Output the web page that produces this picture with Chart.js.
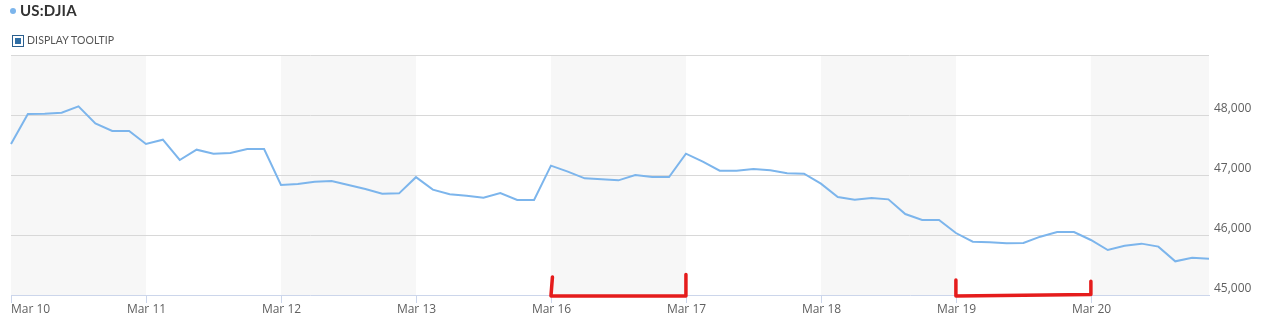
<!DOCTYPE html>
<html>
<head>
<meta charset="utf-8">
<script src="https://cdn.jsdelivr.net/npm/chart.js@4.4.1/dist/chart.umd.min.js"></script>
<style>
  html, body { margin: 0; padding: 0; background: #fff; width: 1265px; height: 327px; overflow: hidden; }
  #wrap { position: relative; width: 1265px; height: 327px; }
  #c { position: absolute; left: 0; top: 0; }
  .title { position: absolute; left: 20px; top: 1px; font-family: Lato, "Open Sans", sans-serif; font-weight: bold; font-size: 15px; color: #333; letter-spacing: 0.2px; }
  .dot { position: absolute; left: 10px; top: 8px; width: 6px; height: 6px; border-radius: 50%; background: #7cb5ec; }
  .cb { position: absolute; left: 12px; top: 35px; width: 10px; height: 10px; border: 1px solid #2b5f8e; background: #fff; }
  .cb::after { content: ""; position: absolute; left: 2px; top: 2px; width: 6px; height: 6px; background: #2f6ea5; }
  .tt { position: absolute; left: 27px; top: 34px; font-family: Lato, "Open Sans", sans-serif; font-size: 10.5px; color: #555; letter-spacing: 0.1px; }
</style>
</head>
<body>
<div id="wrap">
  <canvas id="c" width="1265" height="327"></canvas>
  <div class="dot"></div>
  <div class="title">US:DJIA</div>
  <div class="cb"></div>
  <div class="tt">DISPLAY TOOLTIP</div>
</div>
<script>
// Day labels (one every 8 intraday points)
const dayLabels = ["Mar 10", "Mar 11", "Mar 12", "Mar 13", "Mar 16", "Mar 17", "Mar 18", "Mar 19", "Mar 20"];
const pointsPerDay = 8;

// Intraday DJIA values
const djiaValues = [
  47517, 48017, 48022, 48038, 48145, 47861, 47733, 47733,
  47517, 47589, 47250, 47422, 47356, 47367, 47433, 47433,
  46833, 46850, 46889, 46900, 46833, 46767, 46689, 46694,
  46964, 46756, 46678, 46656, 46622, 46700, 46583, 46583,
  47156, 47056, 46944, 46928, 46911, 47000, 46967, 46967,
  47356, 47222, 47072, 47072, 47100, 47078, 47028, 47022,
  46855, 46633, 46589, 46617, 46594, 46350, 46250, 46250,
  46033, 45889, 45878, 45861, 45867, 45972, 46050, 46050,
  45917, 45750, 45822, 45856, 45806, 45561, 45622, 45606
];

// Y ticks
const yTickValues = [45000, 46000, 47000, 48000, 49000];
const yTickLabels = ["45,000", "46,000", "47,000", "48,000", ""];

// Annotated day ranges (red brackets): [startDay, endDay]
const bracketDays = [[4, 5], [7, 8]];

const categories = djiaValues.map((v, i) => {
  const d = Math.floor(i / pointsPerDay);
  return (i % pointsPerDay === 0) ? dayLabels[d] : "";
});

const bandsPlugin = {
  id: "bands",
  beforeDraw(chart) {
    const { ctx, chartArea: a, scales: { x } } = chart;
    ctx.save();
    ctx.fillStyle = "#f7f7f7";
    for (let d = 0; d < dayLabels.length; d += 2) {
      const x0 = x.getPixelForValue(d * pointsPerDay);
      const endIdx = (d + 1) * pointsPerDay;
      const x1 = endIdx <= djiaValues.length - 1 ? x.getPixelForValue(endIdx) : a.right;
      ctx.fillRect(x0, a.top, x1 - x0, a.bottom - a.top);
    }
    ctx.restore();
  }
};

const xLabelPlugin = {
  id: "xlabels",
  afterDraw(chart) {
    const { ctx, chartArea: a, scales: { x } } = chart;
    ctx.save();
    ctx.font = "12px 'Open Sans', sans-serif";
    ctx.fillStyle = "#606060";
    ctx.textBaseline = "middle";
    ctx.strokeStyle = "#ccd6eb";
    ctx.lineWidth = 1;
    dayLabels.forEach((lab, d) => {
      const px = Math.round(x.getPixelForValue(d * pointsPerDay)) + 0.5;
      ctx.beginPath();
      ctx.moveTo(px, a.bottom);
      ctx.lineTo(px, a.bottom + 8);
      ctx.stroke();
      ctx.textAlign = d === 0 ? "left" : "center";
      ctx.fillText(lab, d === 0 ? px - 0.5 : px, a.bottom + 15);
    });
    ctx.restore();
  }
};

const bracketPlugin = {
  id: "brackets",
  afterDraw(chart) {
    const { ctx, scales: { x, y } } = chart;
    ctx.save();
    ctx.strokeStyle = "#e51c1c";
    ctx.lineWidth = 3.5;
    ctx.lineCap = "round";
    ctx.lineJoin = "round";
    bracketDays.forEach(([s, e], k) => {
      const x0 = x.getPixelForValue(s * pointsPerDay);
      const x1 = x.getPixelForValue(e * pointsPerDay);
      const yb = y.getPixelForValue(45000) + 1;
      const yl = y.getPixelForValue(k === 0 ? 45300 : 45250);
      const yr = y.getPixelForValue(k === 0 ? 45340 : 45230);
      ctx.beginPath();
      ctx.moveTo(x0 + (k === 0 ? 1.5 : 0), yl);
      ctx.lineTo(x0, yb);
      ctx.lineTo(x1, yb - (k === 0 ? 0 : 1.5));
      ctx.lineTo(x1, yr);
      ctx.stroke();
    });
    ctx.restore();
  }
};

new Chart(document.getElementById("c"), {
  type: "line",
  data: {
    labels: categories,
    datasets: [{
      label: "US:DJIA",
      data: djiaValues,
      borderColor: "#7cb5ec",
      borderWidth: 2,
      pointRadius: 0,
      tension: 0,
      fill: false
    }]
  },
  options: {
    responsive: false,
    animation: false,
    events: [],
    layout: { padding: { left: 11, top: 55, right: 0, bottom: 0 } },
    plugins: { legend: { display: false }, tooltip: { enabled: false } },
    scales: {
      x: {
        type: "category",
        offset: false,
        grid: { display: false, drawTicks: false },
        border: { display: true, color: "#ccd6eb", width: 1 },
        ticks: { display: false },
        afterFit(s) { s.height = 32; }
      },
      y: {
        position: "right",
        min: 45000,
        max: 49000,
        afterBuildTicks(s) { s.ticks = yTickValues.map(v => ({ value: v })); },
        grid: { color: (c) => c.tick && c.tick.value === 45000 ? "rgba(0,0,0,0)" : "#d8d8d8", drawTicks: false, lineWidth: 1 },
        border: { display: false },
        ticks: {
          padding: 5,
          labelOffset: -6,
          color: "#606060",
          font: { family: "'Open Sans', sans-serif", size: 12 },
          callback: (v) => yTickLabels[yTickValues.indexOf(v)]
        },
        afterFit(s) { s.width = 56; }
      }
    }
  },
  plugins: [bandsPlugin, xLabelPlugin, bracketPlugin]
});
</script>
</body>
</html>
